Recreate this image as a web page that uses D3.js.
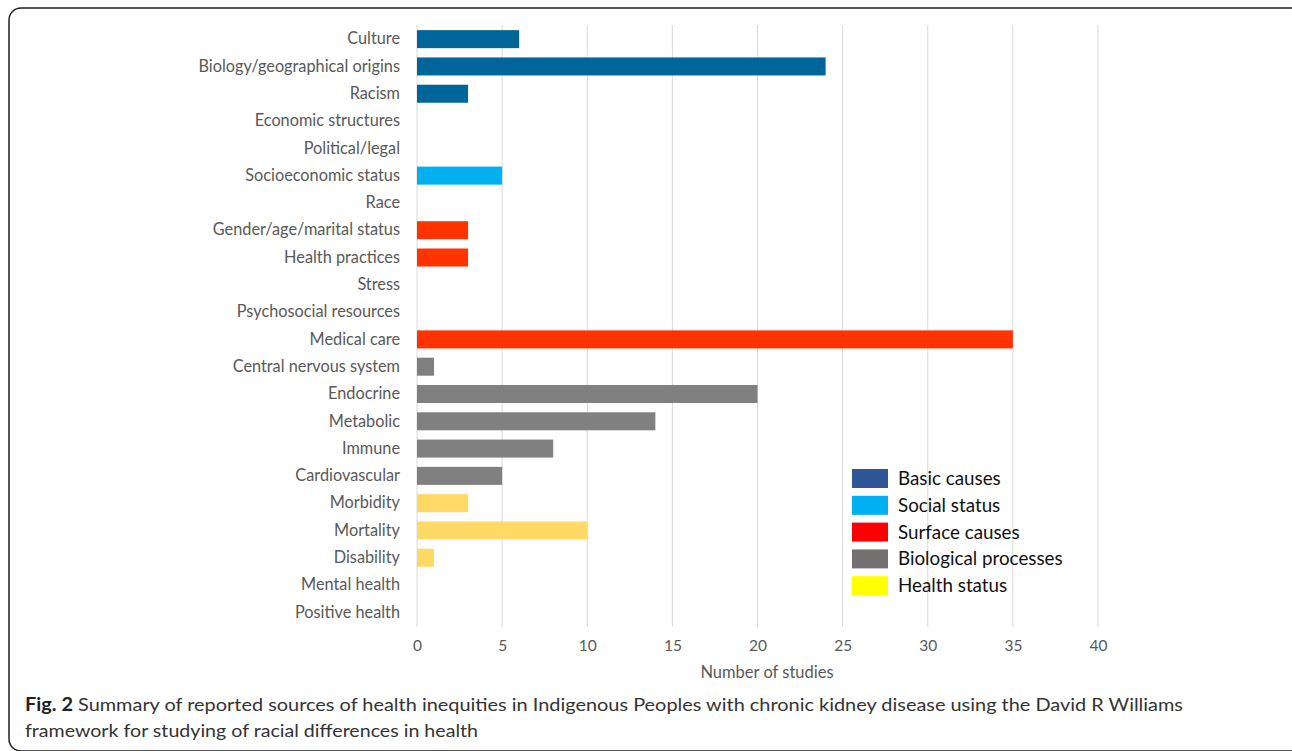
<!DOCTYPE html>
<html>
<head>
<meta charset="utf-8">
<script src="https://cdn.jsdelivr.net/npm/d3@7"></script>
<style>
  body { margin: 0; background: #fff; }
  text { font-family: Lato, "Open Sans", sans-serif; }
</style>
</head>
<body>
<svg id="chart" width="1292" height="751"></svg>
<script>
const categories = [
    'Culture', 'Biology/geographical origins', 'Racism', 'Economic structures', 'Political/legal',
    'Socioeconomic status', 'Race',
    'Gender/age/marital status', 'Health practices', 'Stress', 'Psychosocial resources', 'Medical care',
    'Central nervous system', 'Endocrine', 'Metabolic', 'Immune', 'Cardiovascular',
    'Morbidity', 'Mortality', 'Disability', 'Mental health', 'Positive health'
];
const studies = [6, 24, 3, 0, 0, 5, 0, 3, 3, 0, 0, 35, 1, 20, 14, 8, 5, 3, 10, 1, 0, 0];
const groupOf = [0, 0, 0, 0, 0, 1, 1, 2, 2, 2, 2, 2, 3, 3, 3, 3, 3, 4, 4, 4, 4, 4];
const groups = ['Basic causes', 'Social status', 'Surface causes', 'Biological processes', 'Health status'];
const barColors = ['#006699', '#00b0f0', '#ff3300', '#808080', '#ffd966'];
const legendColors = ['#2f5597', '#00b0f0', '#ff0000', '#767171', '#ffff00'];
const xTicks = [0, 5, 10, 15, 20, 25, 30, 35, 40];

const svg = d3.select('#chart');

// figure frame
svg.append('rect')
    .attr('x', 9).attr('y', 8).attr('width', 1295).attr('height', 743)
    .attr('rx', 12).attr('fill', 'none')
    .attr('stroke', '#222').attr('stroke-width', 1.5);

const x = d3.scaleLinear().domain([0, 40]).range([417, 1098]);
const y = d3.scaleBand().domain(categories).range([25.5, 626]).paddingInner(0.34).paddingOuter(0.17);

// gridlines
svg.append('g').selectAll('line').data(xTicks).join('line')
    .attr('x1', d => x(d)).attr('x2', d => x(d))
    .attr('y1', 25).attr('y2', 627)
    .attr('stroke', '#d9d9d9').attr('stroke-width', 1);

// bars
svg.append('g').selectAll('rect').data(categories).join('rect')
    .attr('x', x(0))
    .attr('y', d => y(d))
    .attr('width', (d, i) => x(studies[i]) - x(0))
    .attr('height', y.bandwidth())
    .attr('fill', (d, i) => barColors[groupOf[i]]);

// category labels
const yAxis = svg.append('g')
    .attr('transform', `translate(${x(0)},0)`)
    .call(d3.axisLeft(y).tickSize(0).tickPadding(17));
yAxis.select('.domain').remove();
yAxis.selectAll('text')
    .attr('font-size', 16.3).attr('fill', '#595959')
    .style('font-family', 'Lato, sans-serif');

// x axis labels
const xAxis = svg.append('g')
    .attr('transform', 'translate(0,627)')
    .call(d3.axisBottom(x).tickValues(xTicks).tickSize(0).tickPadding(13));
xAxis.select('.domain').remove();
xAxis.selectAll('text')
    .attr('font-size', 15.5).attr('fill', '#595959')
    .style('font-family', 'Lato, sans-serif');

svg.append('text')
    .attr('x', 767).attr('y', 678)
    .attr('text-anchor', 'middle')
    .attr('font-size', 16.5).attr('fill', '#595959')
    .text('Number of studies');

// legend
const legend = svg.append('g').attr('transform', 'translate(852,469)');
const item = legend.selectAll('g').data(groups).join('g')
    .attr('transform', (d, i) => `translate(0,${i * 26.8})`);
item.append('rect')
    .attr('width', 36).attr('height', 19)
    .attr('fill', (d, i) => legendColors[i]);
item.append('text')
    .attr('x', 46).attr('y', 16)
    .attr('font-size', 18.8).attr('fill', '#111')
    .text(d => d);

// caption
const cap1 = svg.append('text')
    .attr('x', 25).attr('y', 711)
    .attr('font-size', 18).attr('fill', '#333')
    .attr('textLength', 1158).attr('lengthAdjust', 'spacingAndGlyphs');
cap1.append('tspan').attr('font-weight', 'bold').attr('fill', '#222').text('Fig. 2');
cap1.append('tspan').text(' Summary of reported sources of health inequities in Indigenous Peoples with chronic kidney disease using the David R Williams');

svg.append('text')
    .attr('x', 25).attr('y', 737)
    .attr('font-size', 18).attr('fill', '#333')
    .attr('textLength', 453).attr('lengthAdjust', 'spacingAndGlyphs')
    .text('framework for studying of racial differences in health');
</script>
</body>
</html>
